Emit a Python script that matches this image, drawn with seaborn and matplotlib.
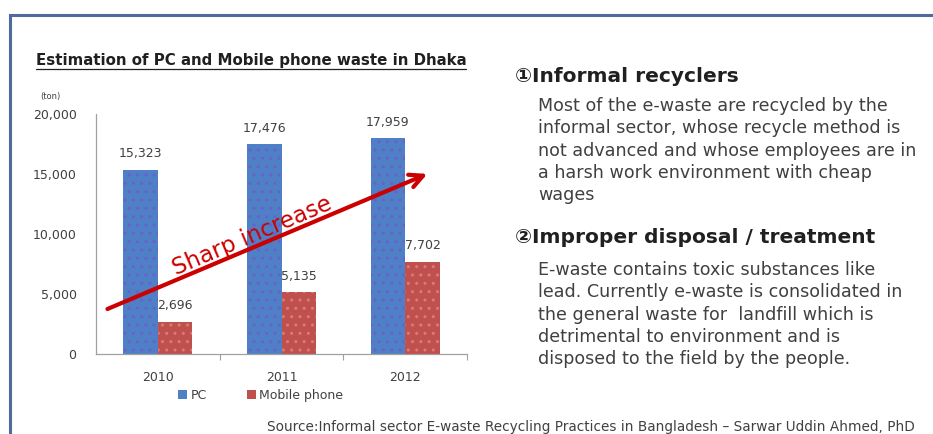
import matplotlib
matplotlib.use("Agg")
import matplotlib.pyplot as plt
import seaborn as sns
import pandas as pd
from matplotlib.patches import Rectangle

years = ["2010", "2011", "2012"]
pc_values = [15323, 17476, 17959]
mobile_values = [2696, 5135, 7702]
series_names = ["PC", "Mobile phone"]
yticks = [0, 5000, 10000, 15000, 20000]

title = "Estimation of PC and Mobile phone waste in Dhaka"
head1 = "\u2460Informal recyclers"
body1 = ["Most of the e-waste are recycled by the",
         "informal sector, whose recycle method is",
         "not advanced and whose employees are in",
         "a harsh work environment with cheap",
         "wages"]
head2 = "\u2461Improper disposal / treatment"
body2 = ["E-waste contains toxic substances like",
         "lead. Currently e-waste is consolidated in",
         "the general waste for  landfill which is",
         "detrimental to environment and is",
         "disposed to the field by the people."]
source = "Source:Informal sector E-waste Recycling Practices in Bangladesh \u2013 Sarwar Uddin Ahmed, PhD"

df = pd.DataFrame({
    "year": years * 2,
    "value": pc_values + mobile_values,
    "series": [series_names[0]] * 3 + [series_names[1]] * 3,
})

sns.set_theme(style="white")
plt.rcParams['font.family'] = ['DejaVu Sans', 'Noto Sans CJK JP']
plt.rcParams['hatch.linewidth'] = 1.0

W, H = 933, 434
fig = plt.figure(figsize=(W / 100, H / 100), dpi=100)

def fx(px):
    return px / W

def fy(py):
    return 1 - py / H

# frame border
fig.patches.append(Rectangle((fx(10), fy(500)), fx(1000), fy(15) - fy(500),
                             transform=fig.transFigure, fill=False,
                             edgecolor="#4d6b9c", linewidth=2.2))

ax_left, ax_right = 96, 467
ax = fig.add_axes([fx(ax_left), fy(354), fx(ax_right) - fx(ax_left), fy(114) - fy(354)])
blue = "#4f7fc4"
red = "#c0504d"
sns.barplot(data=df, x="year", y="value", hue="series", palette=[blue, red],
            width=0.56, ax=ax, saturation=1, linewidth=0, legend=True)

hatch_cols = ["#6a5fd0", "#d77c78"]
for i, cont in enumerate(ax.containers):
    for bar in cont:
        bar.set_hatch("..")
        bar.set_edgecolor(hatch_cols[i])
        bar.set_linewidth(0)
    ax.bar_label(cont, labels=[f"{int(v):,}" for v in cont.datavalues],
                 padding=7, fontsize=9, color="#404040")

ax.set_ylim(0, 20000)
ax.set_xlim(-0.5, 2.5)
ax.set_yticks(yticks)
ax.set_yticklabels([f"{v:,}" for v in yticks], fontsize=9, color="#404040")
ax.tick_params(axis="y", length=0, pad=14)
ax.set_xticks(range(len(years)))
ax.set_xticklabels(years, fontsize=9, color="#404040")
ax.set_xticks([0.5, 1.5, 2.5], minor=True)
ax.tick_params(axis="x", which="major", length=0, pad=12)
ax.tick_params(axis="x", which="minor", length=4, direction="out",
               color="#a0a0a0", width=0.8, bottom=True)
ax.set_xlabel("")
ax.set_ylabel("")
for s in ["top", "right"]:
    ax.spines[s].set_visible(False)
for s in ["left", "bottom"]:
    ax.spines[s].set_color("#a0a0a0")
    ax.spines[s].set_linewidth(0.9)

leg_x = (173 - ax_left) / (ax_right - ax_left)
leg = ax.legend(loc="upper left", bbox_to_anchor=(leg_x, -0.125),
                ncol=2, frameon=False, fontsize=9, handlelength=0.7, handleheight=0.7,
                handletextpad=0.3, columnspacing=3.2, borderaxespad=0)
for t in leg.get_texts():
    t.set_color("#404040")

# arrow and annotation
ax.annotate("", xy=(0.90, 0.755), xytext=(0.024, 0.183), xycoords="axes fraction",
            arrowprops=dict(arrowstyle="->,head_length=0.8,head_width=0.4",
                            color="#cc0000", lw=3))
ax.text(0.42, 0.49, "Sharp increase", transform=ax.transAxes, rotation=23,
        rotation_mode="anchor", ha="center", va="center", fontsize=16.5,
        color="#cc0000")

fig.text(fx(36), fy(61), title, fontsize=10.8, fontweight="bold", color="#202020",
         ha="left", va="center")
fig.add_artist(plt.Line2D([fx(36), fx(466)], [fy(69), fy(69)], color="#202020", lw=0.9))
fig.text(fx(50), fy(96), "(ton)", fontsize=6, color="#404040", ha="center", va="center")

fig.text(fx(515), fy(77), head1, fontsize=14.5, fontweight="bold", color="#202020",
         ha="left", va="center")
for i, line in enumerate(body1):
    fig.text(fx(538), fy(106 + 22.3 * i), line, fontsize=12.6, color="#404040",
             ha="left", va="center")
fig.text(fx(515), fy(238), head2, fontsize=14.5, fontweight="bold", color="#202020",
         ha="left", va="center")
for i, line in enumerate(body2):
    fig.text(fx(538), fy(270 + 22.3 * i), line, fontsize=12.6, color="#404040",
             ha="left", va="center")
fig.text(fx(267), fy(427), source, fontsize=9.8, color="#404040", ha="left", va="center")

fig.savefig("out.png", dpi=100)
